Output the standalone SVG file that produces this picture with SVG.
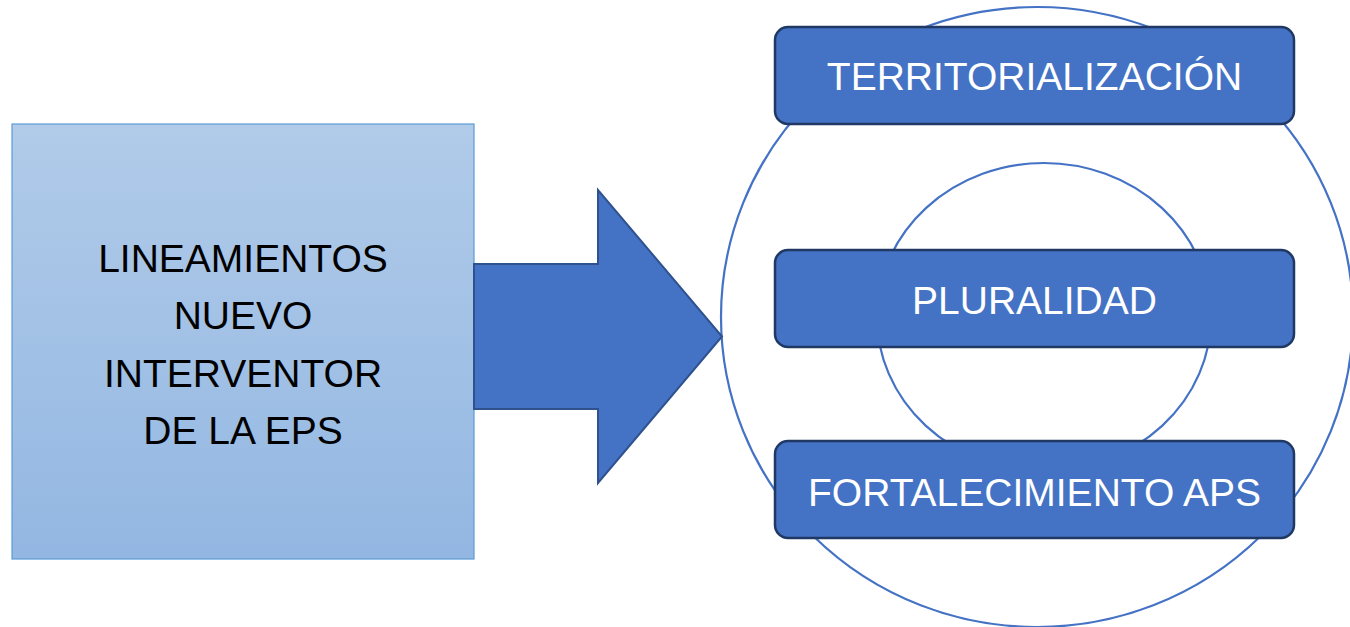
<svg xmlns="http://www.w3.org/2000/svg" width="1350" height="627" viewBox="0 0 1350 627">
<style>
.lbl{font-family:"Liberation Sans",Arial,sans-serif;text-anchor:middle}
.dark{fill:#000000;font-size:39px}
.white{fill:#ffffff;font-size:39px}
.pill{fill:#4472C4;stroke:#1F3864;stroke-width:2.5}
.ring{fill:none;stroke:#4472C4;stroke-width:2.2}
</style>
<defs>
<linearGradient id="gBox" x1="0" y1="0" x2="0" y2="1">
<stop offset="0" stop-color="#B1CBE9"/>
<stop offset="1" stop-color="#93B7E2"/>
</linearGradient>
</defs>
<rect width="1350" height="627" fill="#ffffff"/>
<g id="rings">
<ellipse class="ring" cx="1037" cy="317" rx="316" ry="310"/>
<ellipse class="ring" cx="1044" cy="317" rx="167" ry="154"/>
</g>
<g id="lineamientos">
<rect x="12" y="124" width="462" height="435" fill="url(#gBox)" stroke="#5B9BD5" stroke-width="1.2"/>
<text class="lbl dark" x="243" y="272">LINEAMIENTOS</text>
<text class="lbl dark" x="243" y="329">NUEVO</text>
<text class="lbl dark" x="243" y="387">INTERVENTOR</text>
<text class="lbl dark" x="243" y="444">DE LA EPS</text>
</g>
<g id="connectors">
<path d="M474,264 L598,264 L598,190 L722,336.5 L598,483 L598,409 L474,409 Z" fill="#4472C4" stroke="#2F528F" stroke-width="2"/>
</g>
<g id="territorializacion">
<rect class="pill" x="775" y="27" width="519" height="97" rx="13"/>
<text class="lbl white" x="1034.5" y="90">TERRITORIALIZACIÓN</text>
</g>
<g id="pluralidad">
<rect class="pill" x="775" y="250" width="519" height="97" rx="13"/>
<text class="lbl white" x="1034.5" y="314">PLURALIDAD</text>
</g>
<g id="fortalecimiento">
<rect class="pill" x="775" y="441" width="519" height="97" rx="13"/>
<text class="lbl white" x="1034.5" y="506">FORTALECIMIENTO APS</text>
</g>
</svg>
